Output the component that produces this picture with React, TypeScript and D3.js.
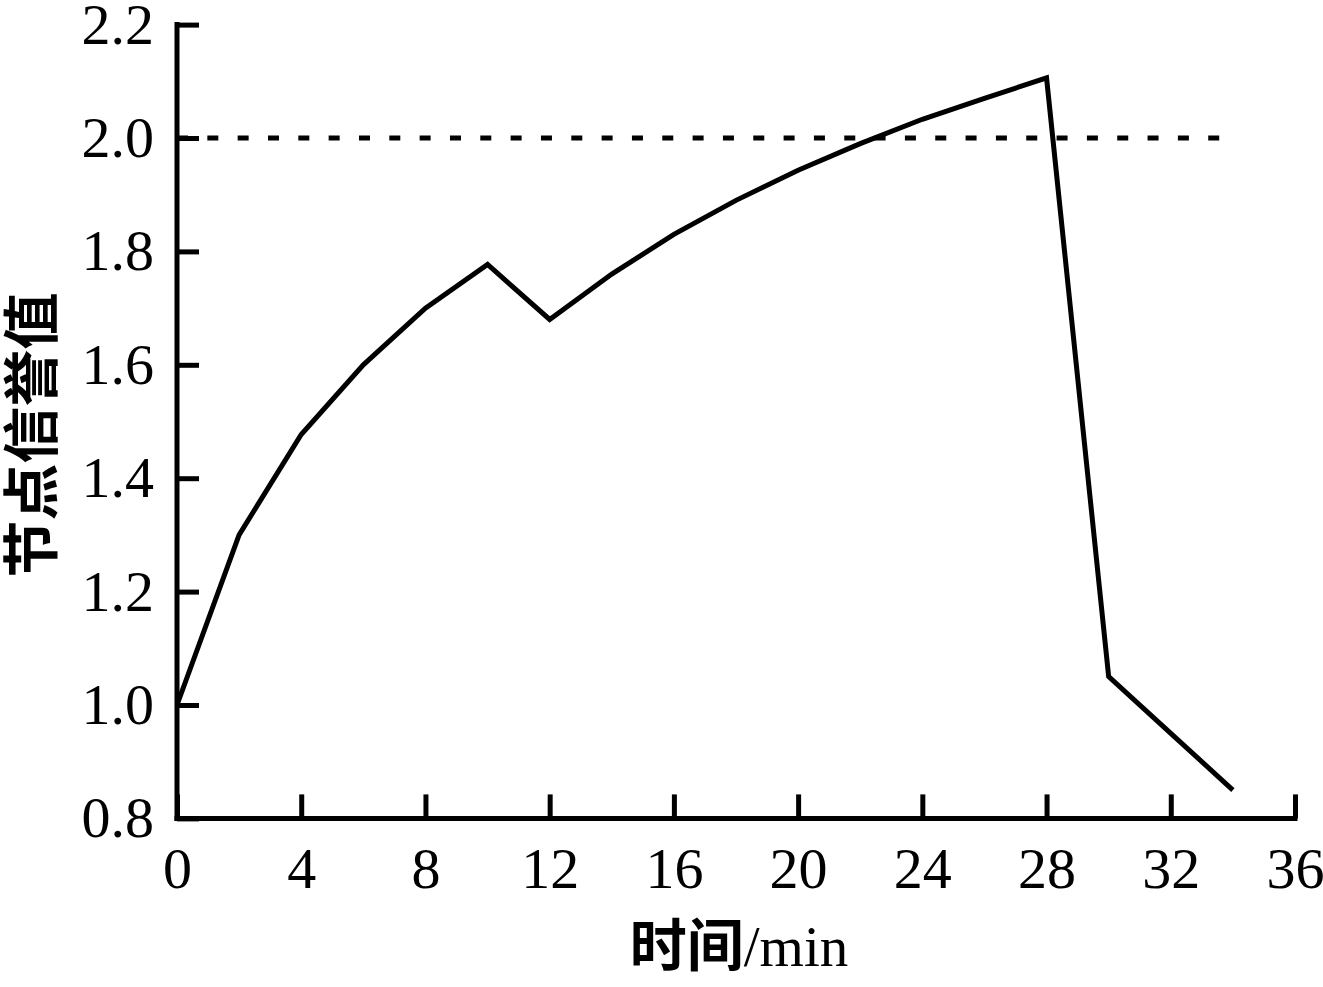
import React from 'react'
import * as d3 from "d3";

const times = [0, 2, 4, 6, 8, 10, 12, 14, 16, 18, 20, 22, 24, 26, 28, 30, 32, 34]
const trust = [1.0, 1.30, 1.477, 1.60, 1.70, 1.777, 1.68, 1.76, 1.83, 1.89, 1.943, 1.99, 2.033, 2.07, 2.106, 1.05, 0.95, 0.85]
const threshold = 2.0
const thresholdRange = [0, 34]
const xTicks = [0, 4, 8, 12, 16, 20, 24, 28, 32, 36]
const yTicks = [0.8, 1.0, 1.2, 1.4, 1.6, 1.8, 2.0, 2.2]

const width = 1323
const height = 987

function drawChart(svgRef: React.RefObject<SVGSVGElement>) {
  const svg = d3.select(svgRef.current)
    .attr("width", width)
    .attr("height", height)
    .attr("viewBox", [0, 0, width, height]);

  svg.selectAll("*").remove();

  const x = d3.scaleLinear().domain([0, 36]).range([177, 1295])
  const y = d3.scaleLinear().domain([0.8, 2.2]).range([818.4, 24.6])

  const serif = "'Liberation Serif', 'Times New Roman', serif"
  const cjk = "'Noto Sans CJK SC', sans-serif"
  const sw = 5

  // threshold line
  svg.append("line")
    .attr("x1", x(thresholdRange[0]))
    .attr("x2", x(thresholdRange[1]))
    .attr("y1", y(threshold))
    .attr("y2", y(threshold))
    .attr("stroke", "#000")
    .attr("stroke-width", sw)
    .attr("stroke-dasharray", "11 19.33");

  // data line
  const line = d3.line<number>()
    .x((_, i) => x(times[i]))
    .y(d => y(d))

  svg.append("path")
    .datum(trust)
    .attr("fill", "none")
    .attr("stroke", "#000")
    .attr("stroke-width", sw)
    .attr("stroke-linejoin", "miter")
    .attr("d", line);

  // x axis
  const xAxis = svg.append("g")
    .attr("transform", `translate(0,${y(0.8)})`)
    .call(d3.axisBottom(x).tickValues(xTicks).tickSizeInner(-24).tickSizeOuter(0).tickPadding(0).tickFormat(d3.format("d")));

  xAxis.select(".domain").attr("stroke-width", sw).attr("d", `M${x(0) - 2.5},0H${x(36) + 2.5}`);
  xAxis.selectAll(".tick line").attr("stroke-width", sw);
  xAxis.selectAll(".tick text")
    .attr("font-family", serif)
    .attr("font-size", 58)
    .attr("fill", "#000")
    .attr("dy", 0)
    .attr("y", 70);

  // y axis
  const yAxis = svg.append("g")
    .attr("transform", `translate(${x(0)},0)`)
    .call(d3.axisLeft(y).tickValues(yTicks).tickSizeInner(-22).tickSizeOuter(0).tickPadding(0).tickFormat(d3.format(".1f")));

  yAxis.select(".domain").attr("stroke-width", sw).attr("d", `M0,${y(0.8) + 2.5}V${y(2.2) - 2.5}`);
  yAxis.selectAll(".tick line").attr("stroke-width", sw);
  yAxis.selectAll(".tick text")
    .attr("font-family", serif)
    .attr("font-size", 58)
    .attr("fill", "#000")
    .attr("x", -23)
    .attr("dy", "0.32em");

  // x title
  const xt = svg.append("text")
    .attr("x", 739)
    .attr("y", 966)
    .attr("text-anchor", "middle")
    .attr("font-size", 57)
    .attr("fill", "#000");
  xt.append("tspan").attr("font-family", cjk).attr("font-weight", 600).text("时间");
  xt.append("tspan").attr("font-family", serif).text("/min");

  // y title
  svg.append("text")
    .attr("transform", `translate(52,435) rotate(-90)`)
    .attr("text-anchor", "middle")
    .attr("font-family", cjk)
    .attr("font-weight", 600)
    .attr("font-size", 57)
    .attr("fill", "#000")
    .text("节点信誉值");

  return svg.node();
}

const App: React.FunctionComponent = () => {
  const svg = React.useRef<SVGSVGElement>(null);

  React.useEffect(() => {
    drawChart(svg);
  }, [svg]);

  return (
    <div id="chart" style={{ position: "absolute", left: 0, top: 0, background: "#fff" }}>
      <svg ref={svg} style={{ display: "block" }} />
    </div>
  );
};

export default App
